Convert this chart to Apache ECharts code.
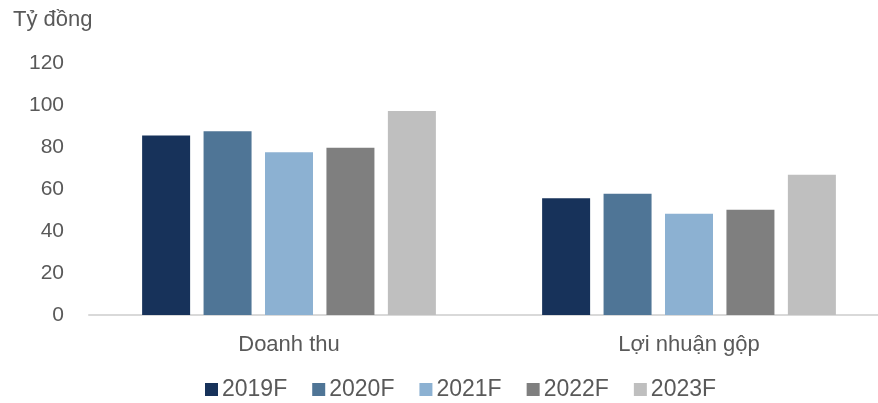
<!DOCTYPE html>
<html>
<head>
<meta charset="utf-8">
<script src="https://cdn.jsdelivr.net/npm/echarts@6/dist/echarts.min.js"></script>
<style>
  html, body { margin: 0; padding: 0; background: #fff; }
  #chart { width: 878px; height: 403px; }
</style>
</head>
<body>
<div id="chart"></div>
<script>
const categories = ['Doanh thu', 'Lợi nhuận gộp']
const years = ['2019F', '2020F', '2021F', '2022F', '2023F']
const colors = ['#17325a', '#4f7596', '#8cb1d2', '#7f7f7f', '#bfbfbf']
const values2019 = [85.5, 55.6]
const values2020 = [87.5, 57.7]
const values2021 = [77.5, 48.2]
const values2022 = [79.6, 50.1]
const values2023 = [97.2, 66.8]
const yTicks = [0, 20, 40, 60, 80, 100, 120]

const seriesValues = [values2019, values2020, values2021, values2022, values2023]
const font = 'Liberation Sans, Arial, sans-serif'
const textColor = '#595959'

const myChart = echarts.init(document.getElementById('chart'))

const option = {
  animation: false,
  title: {
    text: 'Tỷ đồng',
    left: 13,
    top: 9,
    padding: 0,
    textStyle: { fontFamily: font, fontSize: 22, fontWeight: 'normal', color: textColor },
  },
  legend: {
    data: years,
    left: 205,
    top: 378,
    padding: 0,
    icon: 'rect',
    itemWidth: 13,
    itemHeight: 13,
    itemGap: 25,
    textStyle: { fontFamily: font, fontSize: 23, color: textColor, padding: [0, 0, 0, -1] },
  },
  grid: {
    left: 89,
    top: 63,
    width: 800,
    height: 252,
    outerBoundsMode: 'none',
  },
  xAxis: {
    type: 'category',
    data: categories,
    axisLine: { lineStyle: { color: '#d9d9d9', width: 2 } },
    axisTick: { show: false },
    axisLabel: { fontFamily: font, fontSize: 22, color: textColor, margin: 19 },
  },
  yAxis: {
    type: 'value',
    min: yTicks[0],
    max: yTicks[yTicks.length - 1],
    interval: 20,
    splitLine: { show: false },
    axisLine: { show: false },
    axisTick: { show: false },
    axisLabel: { fontFamily: font, fontSize: 21, color: textColor, margin: 25 },
  },
  series: years.map((y, i) => ({
    name: y,
    type: 'bar',
    barWidth: 48,
    barGap: '28%',
    color: colors[i],
    data: seriesValues[i],
  })),
}

option && myChart.setOption(option)
</script>
</body>
</html>
